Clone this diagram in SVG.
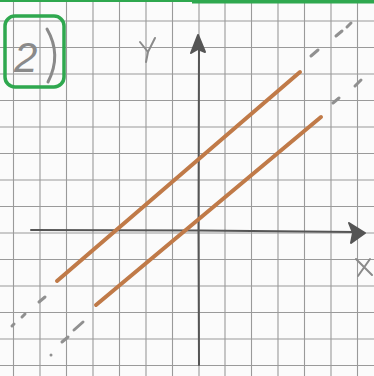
<svg xmlns="http://www.w3.org/2000/svg" width="374" height="376" viewBox="0 0 374 376">
<style>
.grid line{stroke:#9a9a9a;stroke-width:1.1}
.axis{stroke:#555;stroke-width:2;fill:none;stroke-linecap:round}
.line{stroke:#c07a48;stroke-width:4;stroke-linecap:round;fill:none}
.dash{stroke:#909090;stroke-width:3;stroke-linecap:round;fill:none}
.hand{font-family:"Liberation Sans",sans-serif;fill:#8a8a8a}
</style>
<rect width="374" height="376" fill="#fbfbfb"/>
<g id="grid" class="grid">
<line x1="13.5" y1="0" x2="13.5" y2="376"/><line x1="40" y1="0" x2="40" y2="376"/><line x1="66.5" y1="0" x2="66.5" y2="376"/><line x1="93" y1="0" x2="93" y2="376"/><line x1="119.5" y1="0" x2="119.5" y2="376"/><line x1="146" y1="0" x2="146" y2="376"/><line x1="172.5" y1="0" x2="172.5" y2="376"/><line x1="199" y1="0" x2="199" y2="376"/><line x1="225" y1="0" x2="225" y2="376"/><line x1="251.5" y1="0" x2="251.5" y2="376"/><line x1="278" y1="0" x2="278" y2="376"/><line x1="304.5" y1="0" x2="304.5" y2="376"/><line x1="331" y1="0" x2="331" y2="376"/><line x1="357.5" y1="0" x2="357.5" y2="376"/>
<line x1="0" y1="21" x2="374" y2="21"/><line x1="0" y1="47.5" x2="374" y2="47.5"/><line x1="0" y1="74" x2="374" y2="74"/><line x1="0" y1="100.5" x2="374" y2="100.5"/><line x1="0" y1="127" x2="374" y2="127"/><line x1="0" y1="153.5" x2="374" y2="153.5"/><line x1="0" y1="180" x2="374" y2="180"/><line x1="0" y1="206.5" x2="374" y2="206.5"/><line x1="0" y1="233" x2="374" y2="233"/><line x1="0" y1="259.5" x2="374" y2="259.5"/><line x1="0" y1="286" x2="374" y2="286"/><line x1="0" y1="312.5" x2="374" y2="312.5"/><line x1="0" y1="339" x2="374" y2="339"/><line x1="0" y1="365.5" x2="374" y2="365.5"/>
</g>
<rect x="0" y="0" width="374" height="2" fill="#2fa84f"/>
<rect x="192" y="0" width="182" height="3.5" fill="#2fa84f"/>
<g id="label-box">
<rect x="5" y="16" width="59" height="71" rx="10" ry="10" fill="none" stroke="#2fa84f" stroke-width="3.5"/>
<text class="hand" x="14" y="72" font-size="42" font-style="italic">2</text>
<path d="M47 29 Q62 55 48 82" fill="none" stroke="#8a8a8a" stroke-width="3" stroke-linecap="round"/>
</g>
<g id="axes">
<path class="axis" d="M31 230 L200 230.5 L355 232"/>
<path d="M349 223 L365 233 L351 243 L353 233 Z" fill="#555" stroke="#555" stroke-width="2" stroke-linejoin="round"/>
<path class="axis" d="M199 365 L198.5 230 L199 42"/>
<path d="M191 53 L198 35 L205 52 L198 49 Z" fill="#555" stroke="#555" stroke-width="2" stroke-linejoin="round"/>
<path d="M356 259 L372 275 M370 259 L358 276" fill="none" stroke="#8a8a8a" stroke-width="2" stroke-linecap="round"/>
<path d="M140 42 L148 52 L155 38 M148 52 L146 62" fill="none" stroke="#8a8a8a" stroke-width="2" stroke-linecap="round"/>
</g>
<g id="connectors">
<path class="line" d="M57 281 L300 72"/>
<path class="line" d="M96 305 L321 117"/>
<path class="dash" d="M311 56 L318 50 M336 36 L342 31 M347 27 L351 23"/>
<path class="dash" d="M333 103 L339 98 M355 86 L361 80"/>
<path class="dash" d="M39 302 L45 297 M22 317 L25 314 M12 326 L14 324"/>
<path class="dash" d="M83 322 L74 330 M68 337 L62 342 M51 355 L51 355"/>
</g>
</svg>
